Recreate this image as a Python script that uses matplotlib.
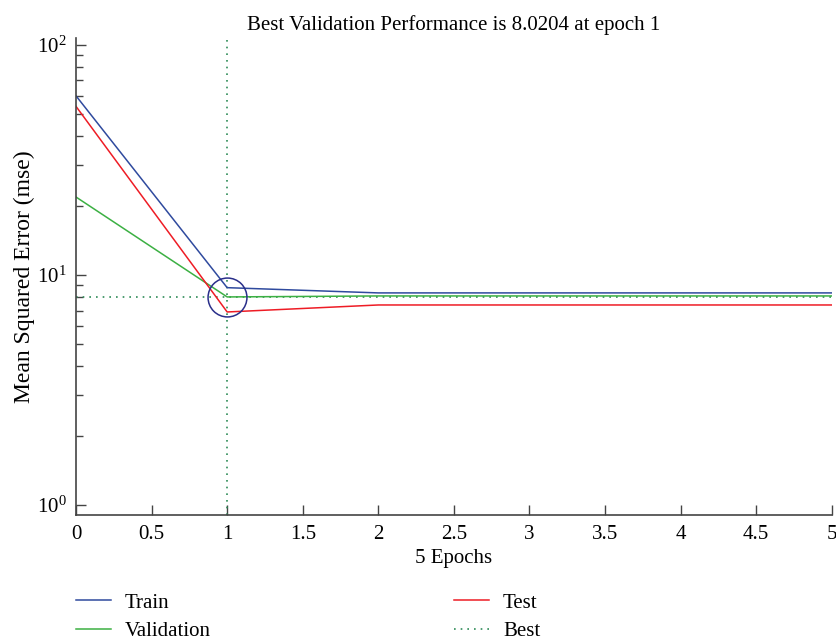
import matplotlib.pyplot as plt
from matplotlib.lines import Line2D

# data
epochs = [0, 1, 2, 3, 4, 5]
train_mse = [60.0, 8.8, 8.35, 8.35, 8.35, 8.35]
valid_mse = [21.8, 8.0204, 8.1, 8.1, 8.1, 8.1]
test_mse = [54.0, 6.9, 7.4, 7.4, 7.4, 7.4]
best_epoch = 1
best_perf = 8.0204

plt.rcParams['font.family'] = ['Liberation Serif', 'DejaVu Serif']
plt.rcParams['font.size'] = 15

fig = plt.figure(figsize=(8.36, 6.41), dpi=100)
ax = fig.add_axes([0.0909, 0.1966, 0.9041, 0.7441])

c_train = '#2f4a9e'
c_valid = '#3cb043'
c_test = '#ee1c25'
c_best = '#2e8b57'
best_ls = (0, (1, 3))

ax.axhline(best_perf, color=c_best, linestyle=best_ls, linewidth=1.2)
ax.axvline(best_epoch, color=c_best, linestyle=best_ls, linewidth=1.2)
ax.plot(epochs, train_mse, color=c_train, linewidth=1.1)
ax.plot(epochs, valid_mse, color=c_valid, linewidth=1.1)
ax.plot(epochs, test_mse, color=c_test, linewidth=1.1)
ax.plot([best_epoch], [best_perf], marker='o', markersize=28, fillstyle='none',
        markeredgecolor='#2a2f8a', markeredgewidth=1.1, linestyle='none')

ax.set_yscale('log')
ax.set_xlim(0, 5)
ax.set_ylim(0.905, 107)
ax.set_xticks([0, 0.5, 1, 1.5, 2, 2.5, 3, 3.5, 4, 4.5, 5])
ax.set_xticklabels(['0', '0.5', '1', '1.5', '2', '2.5', '3', '3.5', '4', '4.5', '5'])

for s in ['top', 'right']:
    ax.spines[s].set_visible(False)
for s in ['left', 'bottom']:
    ax.spines[s].set_color('#444444')
    ax.spines[s].set_linewidth(1.2)
ax.tick_params(which='both', direction='in', color='#444444', width=1.0)
ax.tick_params(which='major', length=7, labelsize=15, pad=7)
ax.tick_params(which='minor', length=5)

ax.set_title('Best Validation Performance is 8.0204 at epoch 1', fontsize=15, pad=6)
ax.set_xlabel('5 Epochs', fontsize=15, labelpad=4)
ax.set_ylabel('Mean Squared Error (mse)', fontsize=17, labelpad=1)

h_train = Line2D([], [], color=c_train, linewidth=1.1)
h_valid = Line2D([], [], color=c_valid, linewidth=1.1)
h_test = Line2D([], [], color=c_test, linewidth=1.1)
h_best = Line2D([], [], color=c_best, linestyle=best_ls, linewidth=1.2)

leg_kw = dict(loc='upper left', frameon=False, fontsize=15, handlelength=1.7,
              handletextpad=0.65, labelspacing=0.42, borderpad=0, borderaxespad=0)
fig.legend([h_train, h_valid], ['Train', 'Validation'],
           bbox_to_anchor=(76 / 836, 1 - 593 / 641), **leg_kw)
fig.legend([h_test, h_best], ['Test', 'Best'],
           bbox_to_anchor=(454 / 836, 1 - 593 / 641), **leg_kw)

fig.savefig('out.png', dpi=100)
